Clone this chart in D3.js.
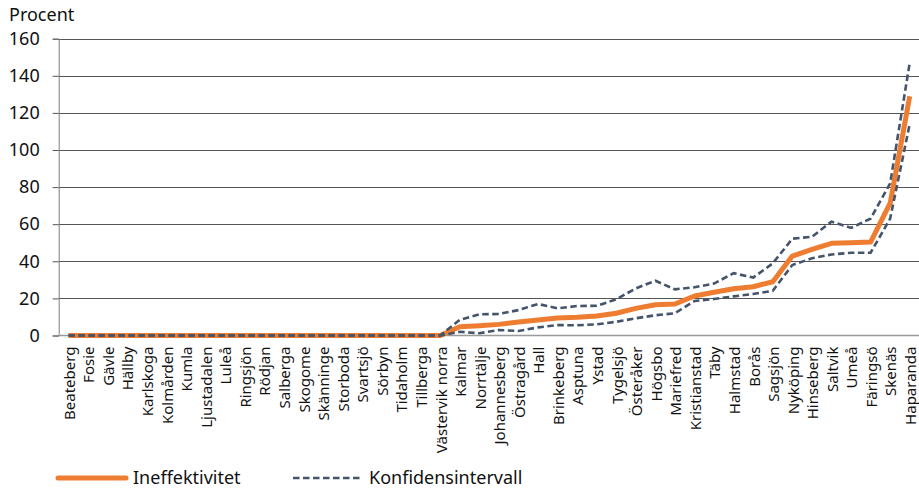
<!DOCTYPE html>
<html>
<head>
<meta charset="utf-8">
<script src="https://cdn.jsdelivr.net/npm/d3@7"></script>
<style>
  html, body { margin: 0; padding: 0; background: #fff; }
  svg { display: block; font-family: "Noto Sans", sans-serif; }
</style>
</head>
<body>
<svg id="chart" width="919" height="488"></svg>
<script>
const anstalter = [
  "Beateberg", "Fosie", "Gävle", "Hällby", "Karlskoga", "Kolmården", "Kumla", "Ljustadalen",
  "Luleå", "Ringsjön", "Rödjan", "Salberga", "Skogome", "Skänninge", "Storboda", "Svartsjö",
  "Sörbyn", "Tidaholm", "Tillberga", "Västervik norra", "Kalmar", "Norrtälje", "Johannesberg",
  "Östragård", "Hall", "Brinkeberg", "Asptuna", "Ystad", "Tygelsjö", "Österåker", "Högsbo",
  "Mariefred", "Kristianstad", "Täby", "Halmstad", "Borås", "Sagsjön", "Nyköping", "Hinseberg",
  "Saltvik", "Umeå", "Färingsö", "Skenäs", "Haparanda"
];

const ineffektivitet = [
  0, 0, 0, 0, 0, 0, 0, 0, 0, 0, 0, 0, 0, 0, 0, 0, 0, 0, 0, 0,
  4.7, 5.3, 6.0, 7.3, 8.3, 9.4, 9.8, 10.5, 12.0, 14.6, 16.6, 17.0, 21.3, 23.3, 25.2, 26.3,
  29.0, 42.8, 46.4, 49.7, 50.0, 50.4, 71.3, 129
];

const kiOvre = [
  0, 0, 0, 0, 0, 0, 0, 0, 0, 0, 0, 0, 0, 0, 0, 0, 0, 0, 0, 0,
  8.4, 11.4, 11.6, 13.7, 17.0, 14.6, 15.9, 16.0, 19.5, 25.4, 29.5, 24.9, 26.0, 28.0, 33.6, 31.2,
  38.9, 52.2, 53.2, 61.4, 58.0, 63.0, 82.0, 147
];

const kiNedre = [
  0, 0, 0, 0, 0, 0, 0, 0, 0, 0, 0, 0, 0, 0, 0, 0, 0, 0, 0, 0,
  2.0, 1.2, 3.0, 2.4, 4.4, 5.6, 5.5, 6.0, 7.4, 9.3, 10.9, 12.0, 18.6, 19.7, 21.1, 22.4,
  24.1, 38.0, 41.6, 43.7, 44.6, 44.6, 63.0, 114
];

const yTicks = [0, 20, 40, 60, 80, 100, 120, 140, 160];

(() => {
  const orange = "#ee7d32";
  const slate = "#44546a";

  const svg = d3.select("#chart");
  const plot = { left: 58.7, right: 919.5, top: 38.7, bottom: 335.5 };

  const x = d3.scalePoint().domain(anstalter).range([plot.left, plot.right]).padding(0.5);
  const y = d3.scaleLinear().domain([0, 160]).range([plot.bottom, plot.top]);

  // grid
  svg.append("g")
    .selectAll("line")
    .data(yTicks.filter((d) => d > 0))
    .join("line")
    .attr("x1", plot.left)
    .attr("x2", plot.right)
    .attr("y1", (d) => Math.round(y(d)) + 0.5)
    .attr("y2", (d) => Math.round(y(d)) + 0.5)
    .attr("stroke", "#555")
    .attr("stroke-width", 1);

  // y axis
  const yAxis = svg.append("g")
    .attr("transform", `translate(${plot.left},0)`)
    .call(d3.axisLeft(y).tickValues(yTicks).tickSize(6).tickPadding(13));
  yAxis.select(".domain").attr("stroke", "#7f7f7f");
  yAxis.selectAll(".tick line").attr("stroke", "#555");
  yAxis.selectAll(".tick text")
    .attr("font-family", "Noto Sans")
    .attr("font-size", 18)
    .attr("fill", "#111");

  svg.append("line")
    .attr("x1", plot.left)
    .attr("x2", plot.right)
    .attr("y1", y(0))
    .attr("y2", y(0))
    .attr("stroke", "#9a9a9a")
    .attr("stroke-width", 1.6);

  svg.append("text")
    .attr("x", 9)
    .attr("y", 21)
    .attr("font-size", 18)
    .attr("fill", "#111")
    .text("Procent");

  // x labels
  svg.append("g")
    .selectAll("text")
    .data(anstalter)
    .join("text")
    .attr("transform", (d) => `translate(${x(d)},${plot.bottom + 11}) rotate(-90)`)
    .attr("dy", "0.42em")
    .attr("text-anchor", "end")
    .attr("font-size", 15)
    .attr("fill", "#111")
    .text((d) => d);

  const line = d3.line()
    .x((d, i) => x(anstalter[i]))
    .y((d) => y(d));

  svg.append("path")
    .datum(ineffektivitet)
    .attr("fill", "none")
    .attr("stroke", orange)
    .attr("stroke-width", 5)
    .attr("stroke-linejoin", "round")
    .attr("d", line);

  [kiOvre, kiNedre].forEach((serie) => {
    svg.append("path")
      .datum(serie)
      .attr("fill", "none")
      .attr("stroke", slate)
      .attr("stroke-width", 2.6)
      .attr("stroke-dasharray", "6.5 3.5")
      .attr("d", line);
  });

  // legend
  const legend = svg.append("g");
  legend.append("line")
    .attr("x1", 58).attr("x2", 126).attr("y1", 478).attr("y2", 478)
    .attr("stroke", orange).attr("stroke-width", 5).attr("stroke-linecap", "round");
  legend.append("text")
    .attr("x", 133).attr("y", 484)
    .attr("font-size", 18).attr("fill", "#111")
    .text("Ineffektivitet");
  legend.append("line")
    .attr("x1", 293).attr("x2", 362).attr("y1", 478).attr("y2", 478)
    .attr("stroke", slate).attr("stroke-width", 2.6).attr("stroke-dasharray", "6.5 3.5");
  legend.append("text")
    .attr("x", 369).attr("y", 484)
    .attr("font-size", 18).attr("fill", "#111")
    .text("Konfidensintervall");
})();
</script>
</body>
</html>
